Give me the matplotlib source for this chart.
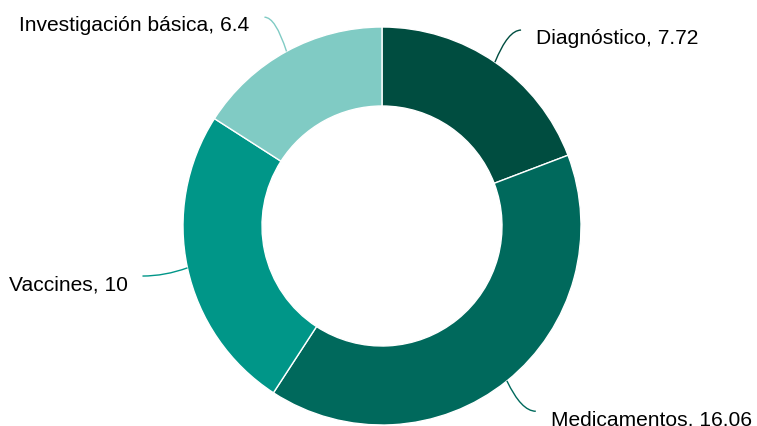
import numpy as np
import matplotlib
matplotlib.use("Agg")
import matplotlib.pyplot as plt
from matplotlib.path import Path
from matplotlib.patches import PathPatch

categories = ["Diagnóstico", "Medicamentos", "Vaccines", "Investigación básica"]
values = [7.72, 16.06, 10, 6.4]
value_labels = ["7.72", "16.06", "10", "6.4"]
colors = ["#004d40", "#00695c", "#009688", "#80cbc4"]

W, H = 757, 427
fig = plt.figure(figsize=(W / 100, H / 100), dpi=100)
ax = fig.add_axes([0, 0, 1, 1])

cx, cy = 382, 200
R = 199
wedges, _ = ax.pie(values, colors=colors, startangle=90, counterclock=False,
                   radius=R, center=(cx, cy),
                   wedgeprops=dict(width=79, edgecolor="white", linewidth=1))
ax.set_xlim(0, W)
ax.set_ylim(0, H)
ax.set_aspect("equal")
ax.axis("off")

label_rx, label_ry = 245, 238
for w, cat, vl, col in zip(wedges, categories, value_labels, colors):
    mid = np.deg2rad((w.theta1 + w.theta2) / 2)
    c, s = np.cos(mid), np.sin(mid)
    x0, y0 = cx + R * c, cy + R * s
    x2, y2 = cx + label_rx * c, cy + label_ry * s
    x1, y1 = x0 + 0.5 * (x2 - x0), y2
    path = Path([(x0, y0), (x1, y1), (x2, y2)],
                [Path.MOVETO, Path.CURVE3, Path.CURVE3])
    ax.add_patch(PathPatch(path, facecolor="none", edgecolor=col, lw=1.0))
    if c >= 0:
        tx, ha = x2 + 15, "left"
    else:
        tx, ha = x2 - 15, "right"
    ax.text(tx, y2 - 13, f"{cat}, {vl}", ha=ha, va="baseline",
            fontsize=15.1, family=["Liberation Sans", "DejaVu Sans"], color="#000000")

fig.savefig("out.png", dpi=100)
